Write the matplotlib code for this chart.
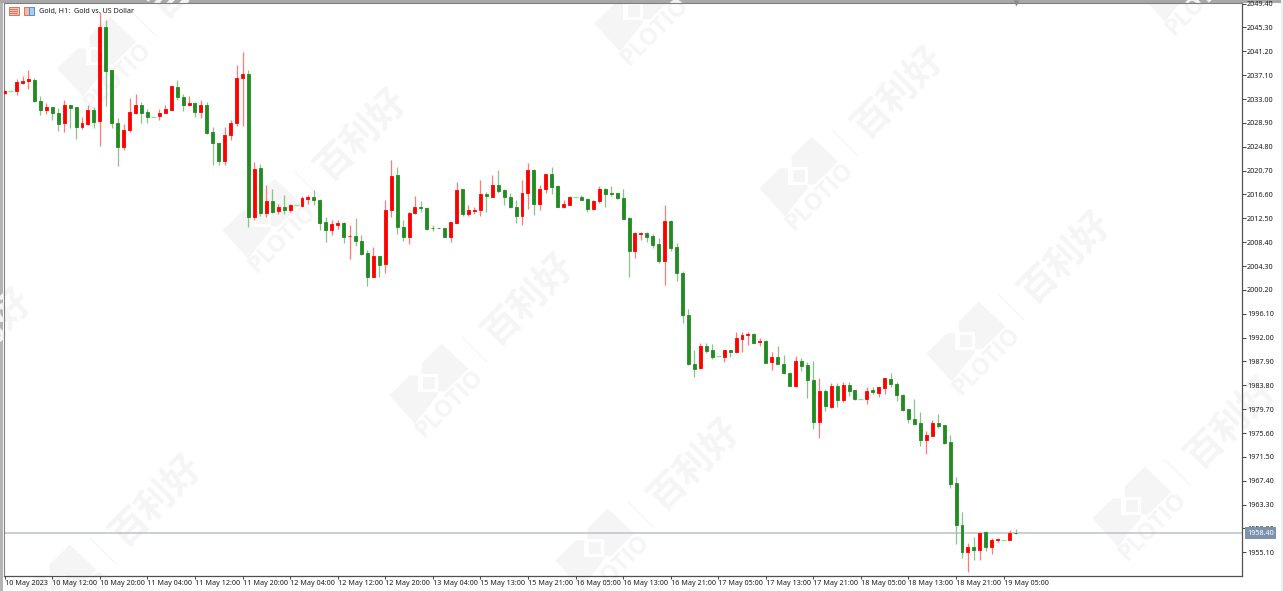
import numpy as np
import matplotlib
matplotlib.use('Agg')
import matplotlib.pyplot as plt
from matplotlib.patches import Polygon, Rectangle

opens = [2033.99,2034.33,2034.33,2035.76,2036.05,2036.34,2032.67,2031.06,2031.58,2030.61,
         2028.89,2031.93,2031.58,2028.26,2028.77,2031.18,2029.18,2045.39,2037.94,2028.95,
         2024.82,2027.63,2030.67,2031.98,2030.78,2029.98,2030.03,2030.67,2031.18,2035.08,
         2033.42,2031.93,2032.33,2030.84,2031.98,2027.28,2025.51,2022.36,2026.77,2028.89,
         2036.68,2037.31,2012.78,2021.21,2013.41,2015.54,2013.76,2014.39,2013.99,2014.79,
         2014.68,2015.76,2016.22,2015.71,2011.87,2010.55,2011.29,2011.75,2009.40,2009.52,
         2008.66,2006.48,2002.47,2005.97,2004.59,2013.93,2019.89,2011.07,2009.29,2013.36,
         2014.39,2014.33,2010.89,2010.89,2010.84,2009.35,2011.75,2017.48,2013.19,2013.82,
         2013.93,2016.74,2016.22,2018.23,2017.37,2016.22,2014.50,2012.90,2016.91,2020.86,
         2014.96,2017.54,2020.18,2018.00,2014.50,2014.85,2016.17,2016.22,2015.82,2014.16,
         2015.42,2017.60,2016.85,2016.80,2016.05,2012.61,2006.88,2009.86,2010.03,2009.40,
         2008.14,2005.22,2011.98,2007.51,2003.16,1995.81,1987.50,1986.70,1990.59,1989.79,
         1988.82,1988.70,1989.85,1989.45,1991.80,1992.49,1992.66,1991.17,1991.40,1987.73,
         1988.65,1987.50,1985.95,1983.66,1988.02,1987.27,1984.75,1977.42,1982.80,1980.11,
         1983.72,1981.25,1983.83,1982.92,1981.48,1981.43,1982.92,1982.52,1983.37,1984.92,
         1984.06,1982.17,1979.71,1978.05,1977.30,1974.38,1975.12,1977.30,1976.96,1973.98,
         1966.93,1959.88,1955.18,1955.93,1955.47,1958.51,1956.04,1957.19,1957.30,1957.25,1958.45]
highs = [2034.50,2034.33,2036.45,2037.02,2038.06,2036.62,2033.47,2032.33,2031.64,2031.47,
         2032.90,2032.04,2031.70,2029.92,2031.93,2031.64,2047.91,2046.54,2038.06,2029.75,
         2028.77,2033.13,2033.93,2032.44,2031.30,2029.98,2031.30,2031.98,2035.31,2036.34,
         2033.93,2033.59,2032.44,2032.90,2032.50,2028.20,2025.57,2028.20,2029.35,2038.92,
         2041.09,2037.94,2022.12,2021.90,2018.29,2017.54,2014.96,2016.45,2015.02,2014.79,
         2016.34,2016.45,2017.43,2015.82,2012.73,2012.27,2012.27,2011.87,2011.41,2012.50,
         2009.69,2007.00,2007.63,2006.08,2015.71,2022.47,2021.32,2012.27,2013.53,2016.34,
         2015.54,2014.45,2011.41,2010.89,2010.89,2011.93,2018.74,2017.60,2014.79,2014.45,
         2019.14,2017.02,2019.89,2020.81,2017.54,2016.85,2015.71,2019.14,2022.01,2020.98,
         2018.23,2020.18,2021.32,2018.23,2015.71,2016.28,2016.17,2016.51,2015.94,2015.59,
         2018.11,2017.66,2018.00,2016.85,2017.60,2012.67,2010.20,2010.20,2010.09,2009.86,
         2009.17,2014.79,2012.27,2008.26,2003.44,1996.90,1989.91,1991.05,1991.05,1990.94,
         1988.82,1989.91,1989.91,1992.94,1992.94,1992.94,1992.71,1991.97,1991.57,1989.45,
         1990.48,1988.99,1986.01,1988.82,1988.53,1987.79,1987.90,1985.09,1983.15,1984.18,
         1984.18,1984.41,1984.35,1982.97,1981.48,1983.49,1983.43,1983.55,1985.09,1985.90,
         1984.35,1982.23,1979.77,1981.43,1979.19,1975.98,1977.87,1978.91,1977.02,1975.30,
         1968.02,1961.95,1956.73,1957.76,1958.45,1958.79,1957.53,1957.53,1957.30,1958.91,1959.14]
lows = [2033.87,2034.33,2033.64,2035.65,2034.73,2032.50,2030.32,2030.49,2029.46,2027.46,
        2027.28,2027.97,2026.14,2027.86,2028.60,2028.09,2024.88,2031.75,2027.97,2021.44,
        2024.30,2027.28,2030.49,2028.89,2028.89,2029.98,2029.46,2030.61,2031.06,2032.79,
        2030.89,2031.75,2029.92,2029.75,2027.06,2021.61,2021.73,2021.61,2026.02,2028.43,
        2028.32,2011.01,2012.27,2012.84,2012.67,2013.41,2013.30,2013.24,2013.53,2014.79,
        2014.56,2015.02,2014.85,2010.55,2008.43,2009.69,2010.72,2008.26,2005.45,2007.80,
        2006.25,2000.81,2002.41,2002.36,2003.10,2012.67,2009.86,2008.66,2008.14,2013.19,
        2013.64,2010.44,2010.26,2010.78,2009.23,2008.37,2011.70,2012.96,2012.96,2013.30,
        2012.96,2013.64,2016.11,2016.85,2014.79,2014.22,2011.75,2011.35,2014.16,2013.01,
        2013.93,2016.85,2016.62,2014.45,2014.22,2014.79,2016.17,2015.65,2013.53,2013.93,
        2015.13,2014.50,2016.39,2015.76,2012.32,2002.41,2005.74,2008.72,2008.49,2007.40,
        2004.82,2000.98,2006.88,2001.78,1994.49,1987.33,1985.27,1986.64,1989.33,1988.30,
        1988.82,1987.79,1988.65,1989.39,1989.56,1990.65,1991.05,1990.48,1987.56,1986.47,
        1987.39,1985.67,1983.66,1983.43,1986.30,1981.66,1976.33,1974.78,1979.36,1979.88,
        1980.11,1980.91,1981.88,1981.31,1981.48,1980.62,1982.34,1981.77,1982.29,1983.43,
        1981.14,1979.31,1977.30,1977.02,1973.35,1971.92,1975.07,1976.39,1973.63,1966.07,
        1956.50,1954.15,1951.80,1953.81,1953.81,1955.30,1954.84,1956.79,1957.30,1957.19,1958.28]
closes = [2034.33,2034.33,2035.88,2036.16,2036.45,2032.61,2031.06,2031.58,2030.55,2028.77,
          2031.93,2031.41,2028.26,2028.89,2031.18,2029.12,2045.39,2037.77,2028.89,2024.82,
          2027.74,2030.78,2031.98,2030.67,2029.92,2029.98,2030.67,2031.30,2035.19,2033.42,
          2031.93,2032.33,2030.84,2031.98,2027.23,2025.45,2022.36,2026.77,2028.89,2036.68,
          2037.31,2012.79,2021.04,2013.41,2015.54,2013.64,2014.39,2013.99,2014.79,2014.79,
          2015.94,2016.22,2015.59,2011.75,2010.44,2011.58,2011.75,2009.29,2009.52,2008.54,
          2006.37,2002.47,2005.97,2004.53,2013.99,2019.78,2011.01,2009.29,2013.47,2014.39,
          2014.22,2010.66,2010.78,2010.78,2009.29,2011.87,2017.43,2013.24,2013.87,2013.99,
          2016.68,2016.39,2018.23,2017.20,2016.22,2014.39,2012.90,2016.91,2020.81,2015.02,
          2017.60,2020.18,2017.88,2014.50,2014.96,2016.22,2016.17,2015.71,2014.16,2015.54,
          2017.60,2016.74,2016.74,2015.94,2012.44,2006.88,2009.92,2010.03,2009.35,2007.97,
          2005.22,2011.98,2007.40,2003.04,1995.81,1987.39,1986.53,1990.59,1989.74,1988.65,
          1988.82,1989.85,1989.51,1991.97,1992.49,1992.66,1991.11,1991.34,1987.67,1988.65,
          1987.44,1985.90,1983.72,1988.02,1987.16,1984.64,1977.42,1982.80,1980.28,1983.72,
          1981.25,1983.83,1982.86,1981.37,1981.48,1982.80,1982.57,1983.43,1984.98,1983.95,
          1982.06,1979.59,1977.99,1977.13,1974.44,1975.30,1977.30,1976.84,1973.86,1966.87,
          1959.83,1955.07,1955.93,1955.47,1958.39,1956.04,1957.25,1957.42,1957.30,1958.45,1958.40]

price_ticks = [2049.4,2045.3,2041.2,2037.1,2033.0,2028.9,2024.8,2020.7,2016.6,2012.5,2008.4,2004.3,
               2000.2,1996.1,1992.0,1987.9,1983.8,1979.7,1975.6,1971.5,1967.4,1963.3,1959.2,1955.1]
time_labels = ['10 May 2023','10 May 12:00','10 May 20:00','11 May 04:00','11 May 12:00','11 May 20:00',
               '12 May 04:00','12 May 12:00','12 May 20:00','13 May 04:00','15 May 13:00','15 May 21:00',
               '16 May 05:00','16 May 13:00','16 May 21:00','17 May 05:00','17 May 13:00','17 May 21:00',
               '18 May 05:00','18 May 13:00','18 May 21:00','19 May 05:00']
last_price = 1958.40

W, H = 1283, 591
plt.rcParams['font.family'] = ['Noto Sans', 'DejaVu Sans']
fig = plt.figure(figsize=(W / 100, H / 100), dpi=100, facecolor='white')

# pixel-space layer for the window frame and the watermark
bg = fig.add_axes([0, 0, 1, 1])
bg.set_xlim(0, W)
bg.set_ylim(H, 0)
bg.axis('off')
mark_col = '#f5f5f5'

def watermark(ax0, ay0):
    shape = [(185,50),(265,125),(195,193),(175,193),(172,205),(105,290),(28,205),(90,145),(125,145),(125,110)]
    bg.add_patch(Polygon([(ax0 + a / 3, ay0 + b / 3) for a, b in shape], fc=mark_col, ec='none'))
    bg.add_patch(Rectangle((ax0 + 38, ay0 + 47), 20, 18, fc='white', ec='none'))
    bg.add_patch(Rectangle((ax0 + 43, ay0 + 50), 12, 12, fc=mark_col, ec='none'))
    bg.text(ax0 + 70, ay0 + 76, 'PLOTIO', rotation=45, rotation_mode='anchor', ha='center', va='center',
            fontsize=17, fontweight='bold', color=mark_col, family='Open Sans', clip_on=True)
    bg.plot([ax0 + 82, ax0 + 107], [ay0 + 10, ay0 + 35], color=mark_col, lw=1)
    bg.text(ax0 + 148, ay0 - 28, '百利好', rotation=45, rotation_mode='anchor', ha='center', va='center',
            fontsize=27, fontweight='bold', color=mark_col, family='Noto Sans CJK SC', clip_on=True)

for a in [(48,0),(213,162),(380,327),(546,492),(8,528),(585,-45),(750,120),(917,285),(1083,450),(1130,-75),(-162,362)]:
    watermark(*a)

bg.add_patch(Rectangle((0, 0), 3, H, fc='#b4b4b4', ec='none'))
bg.add_patch(Rectangle((0, 0), W, 2.5, fc='#a8a8a8', ec='none'))
bg.add_patch(Rectangle((W - 2, 0), 2, H, fc='#eeeeee', ec='none'))

# chart
ax = fig.add_axes([4 / W, 1 - 576 / H, 1238 / W, 573 / H])
ax.patch.set_alpha(0)
ax.set_xlim(-0.118, 208.09)
ax.set_ylim(1951.03, 2049.5)

o = np.array(opens)
h = np.array(highs)
l = np.array(lows)
c = np.array(closes)
x = np.arange(len(o))
up = c > o
down = c < o
flat = c == o

ax.vlines(x[up], l[up], h[up], color='#ff7a7a', lw=0.9, zorder=2)
ax.vlines(x[down], l[down], h[down], color='#8cc08c', lw=0.9, zorder=2)
ax.bar(x[up], c[up] - o[up], bottom=o[up], width=0.5, color='#ff0000', edgecolor='#ff0000', lw=0.6, zorder=3)
ax.bar(x[down], o[down] - c[down], bottom=c[down], width=0.5, color='#228b22', edgecolor='#228b22', lw=0.6, zorder=3)
ax.hlines(o[flat], x[flat] - 0.42, x[flat] + 0.42, color='#7fee7f', lw=0.9, zorder=3)

ax.axhline(last_price, color='#bcc2c8', lw=1.1, zorder=1)

for s in ['left', 'top']:
    ax.spines[s].set_color('#808080')
    ax.spines[s].set_linewidth(0.8)
for s in ['right', 'bottom']:
    ax.spines[s].set_color('#505050')
    ax.spines[s].set_linewidth(0.9)

ax.yaxis.tick_right()
ax.set_yticks(price_ticks)
ax.set_yticklabels(['%.2f' % p for p in price_ticks])
ax.set_xticks(x[::8])
ax.set_xticklabels(time_labels)
ax.tick_params(axis='y', length=2.6, width=0.7, pad=1, labelsize=5.2, color='#404040', labelcolor='#1a1a1a')
ax.tick_params(axis='x', length=2.2, width=0.7, pad=0.8, labelsize=5.2, color='#404040', labelcolor='#1a1a1a')
for t in ax.get_xticklabels():
    t.set_horizontalalignment('left')

ax.text(1.004, last_price, '%.2f' % last_price, transform=ax.get_yaxis_transform(), ha='left', va='center',
        fontsize=5.2, color='white', zorder=6,
        bbox=dict(boxstyle='square,pad=0.3', fc='#7d93ad', ec='none'))
ax.plot([x[-1]], [1], marker='v', ms=5, color='#8a8a8a', mec='none', clip_on=False,
        transform=ax.get_xaxis_transform(), zorder=6)

# chart title and the two little terminal icons
ax.text(39, 11, 'Gold, H1:  Gold vs. US Dollar', transform=bg.transData, ha='left', va='center',
        fontsize=5.2, color='#1a1a1a')
bg.add_patch(Rectangle((8.5, 7), 10, 8, fc='#f6c8b8', ec='#e0705a', lw=0.7))
for yy in [9, 11, 13]:
    bg.plot([10, 17], [yy, yy], color='#d06060', lw=0.6)
bg.add_patch(Rectangle((23.5, 7), 5, 8, fc='#f6b8a8', ec='#e0705a', lw=0.7))
bg.add_patch(Rectangle((28.5, 7), 5, 8, fc='#a8cdf0', ec='#4a90d0', lw=0.7))

fig.savefig('out.png', dpi=100)
